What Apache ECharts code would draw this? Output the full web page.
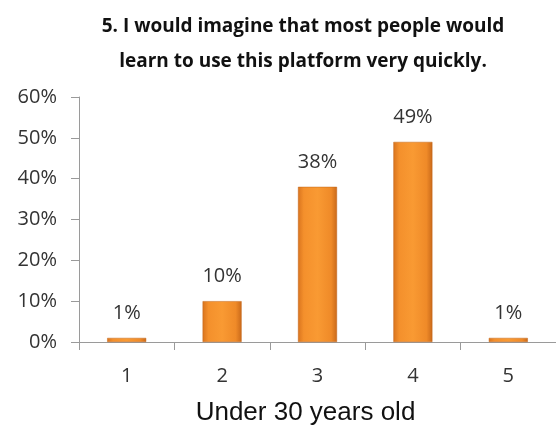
<!DOCTYPE html>
<html>
<head>
<meta charset="utf-8">
<script src="https://cdn.jsdelivr.net/npm/echarts@6/dist/echarts.min.js"></script>
<style>
  html, body { margin: 0; padding: 0; background: #fff; }
  #chart { width: 556px; height: 430px; }
</style>
</head>
<body>
<div id="chart"></div>
<script>
// data
const categories = ['1', '2', '3', '4', '5'];
const values = [1, 10, 38, 49, 1];
const yTicks = [0, 10, 20, 30, 40, 50, 60];

const chart = echarts.init(document.getElementById('chart'));
const barFill = new echarts.graphic.LinearGradient(0, 0, 1, 0, [
  { offset: 0, color: '#d9741e' },
  { offset: 0.15, color: '#f4902c' },
  { offset: 0.5, color: '#f99a33' },
  { offset: 0.85, color: '#ef8a28' },
  { offset: 1, color: '#c9691a' }
]);

const option = {
  animation: false,
  title: {
    text: '5. I would imagine that most people would\nlearn to use this platform very quickly.',
    left: 298,
    textAlign: 'center',
    top: 4,
    textStyle: {
      fontFamily: 'Open Sans',
      fontWeight: 'bold',
      fontSize: 19,
      lineHeight: 35,
      color: '#111'
    }
  },
  grid: { left: 79, right: 0, top: 97, bottom: 88, outerBoundsMode: 'none' },
  xAxis: {
    type: 'category',
    data: categories,
    name: 'Under 30 years old',
    nameLocation: 'middle',
    nameGap: 58,
    nameTextStyle: {
      fontFamily: 'Liberation Sans',
      fontSize: 26,
      color: '#111',
      padding: [0, 24, 0, 0]
    },
    axisLine: { lineStyle: { color: '#9a9a9a' } },
    axisTick: { show: true, length: 8, lineStyle: { color: '#9a9a9a' } },
    axisLabel: { fontFamily: 'Open Sans', fontSize: 20, color: '#333', margin: 24 }
  },
  yAxis: {
    type: 'value',
    min: yTicks[0],
    max: yTicks[yTicks.length - 1],
    interval: 10,
    splitLine: { show: false },
    axisLine: { show: true, lineStyle: { color: '#9a9a9a' } },
    axisTick: { show: true, length: 8, lineStyle: { color: '#9a9a9a' } },
    axisLabel: {
      fontFamily: 'Open Sans',
      fontSize: 20,
      color: '#333',
      margin: 22,
      formatter: '{value}%'
    }
  },
  series: [
    {
      type: 'bar',
      data: values,
      barWidth: 39,
      itemStyle: {
        color: barFill,
        borderColor: '#c06418',
        borderWidth: 0.5
      },
      label: {
        show: true,
        position: 'top',
        distance: 15,
        fontFamily: 'Open Sans',
        fontSize: 20,
        color: '#333',
        formatter: '{c}%'
      }
    }
  ]
};
chart.setOption(option);
</script>
</body>
</html>
